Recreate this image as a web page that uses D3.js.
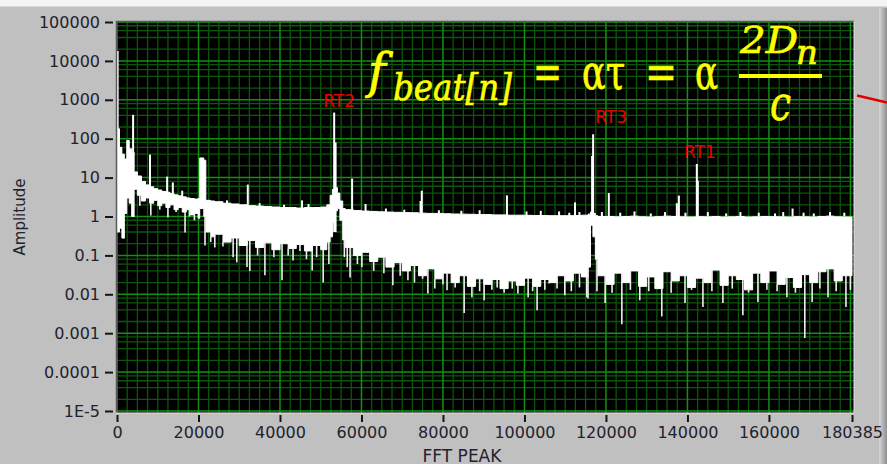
<!DOCTYPE html>
<html>
<head>
<meta charset="utf-8">
<script src="https://cdn.jsdelivr.net/npm/d3@7/dist/d3.min.js"></script>
<style>
  html, body { margin: 0; padding: 0; background: #c0c0c0; }
  svg { display: block; }
</style>
</head>
<body>
<svg id="chart" width="887" height="464"></svg>
<script>
// ---- data ----
var xMax = 180385;
var xTicks = [0, 20000, 40000, 60000, 80000, 100000, 120000, 140000, 160000, 180385];
var xTickLabels = ["0", "20000", "40000", "60000", "80000", "100000", "120000", "140000", "160000", "180385"];
var yTicks = [1e5, 1e4, 1e3, 100, 10, 1, 0.1, 0.01, 0.001, 1e-4, 1e-5];
var yTickLabels = ["100000", "10000", "1000", "100", "10", "1", "0.1", "0.01", "0.001", "0.0001", "1E-5"];

// white noise band: frequency, upper and lower envelope
var bandFreq = [0, 600, 1200, 1800, 2400, 3000, 3600, 4200, 5000, 6000, 7000, 8000, 9000, 10000,
  11000, 12000, 13000, 14000, 15000, 16000, 17000, 18000, 19000, 19900, 20300, 21300, 21800, 23000,
  24000, 26000, 28000, 30000, 32000, 34000, 36000, 38000, 40000, 42000, 44000, 46000, 48000, 50000,
  51500, 52300, 52900, 53500, 54100, 54700, 55400, 56000, 58000, 60000, 62000, 64000, 66000, 68000,
  70000, 72000, 74000, 76000, 78000, 80000, 82000, 84000, 86000, 88000, 90000, 92000, 94000, 96000,
  98000, 100000, 102000, 104000, 106000, 108000, 110000, 112000, 114000, 115600, 116200, 116800,
  117400, 118000, 120000, 122000, 124000, 126000, 128000, 130000, 132000, 134000, 136000, 138000,
  140000, 142000, 144000, 146000, 148000, 150000, 152000, 154000, 156000, 158000, 160000, 162000,
  164000, 166000, 168000, 170000, 172000, 174000, 176000, 178000, 180385];
var bandTop = [180, 60, 40, 30, 90, 55, 45, 14, 11, 8, 6.5, 5.8, 5.2, 4.8,
  4.4, 4.2, 3.9, 3.6, 3.4, 3.2, 3.0, 2.9, 2.8, 2.9, 32, 28, 2.6, 2.5,
  2.4, 2.2, 2.1, 2.0, 1.9, 1.85, 1.8, 1.75, 1.7, 1.7, 1.65, 1.7, 1.7, 1.75,
  2.0, 3.5, 5, 5.5, 4, 2.5, 1.6, 1.5, 1.42, 1.38, 1.35, 1.32, 1.3, 1.28,
  1.26, 1.25, 1.22, 1.2, 1.2, 1.18, 1.16, 1.15, 1.14, 1.12, 1.12, 1.1, 1.1, 1.08,
  1.08, 1.07, 1.06, 1.06, 1.05, 1.05, 1.05, 1.06, 1.08, 1.15, 1.3, 1.2,
  1.05, 1.0, 1.0, 0.98, 1.0, 1.02, 0.98, 0.97, 0.99, 1.02, 1.0, 0.98,
  0.97, 0.99, 0.98, 1.0, 0.97, 0.98, 1.0, 0.97, 0.98, 1.0, 0.99, 0.98,
  0.97, 0.99, 0.98, 0.97, 1.0, 1.02, 0.98, 0.97, 0.97];
var bandBottom = [0.4, 0.5, 0.28, 1.2, 3, 2.2, 1, 5, 3.5, 2.5, 3.0, 2.2, 2.6, 1.9,
  2.2, 1.7, 2.0, 1.5, 1.7, 1.3, 1.5, 1.1, 1.2, 0.9, 1.6, 1.0, 0.4, 0.3,
  0.35, 0.22, 0.28, 0.18, 0.24, 0.16, 0.21, 0.14, 0.2, 0.15, 0.19, 0.13, 0.18, 0.14,
  0.22, 0.3, 0.7, 1.4, 1.6, 0.8, 0.25, 0.16, 0.1, 0.12, 0.07, 0.09, 0.05, 0.065,
  0.04, 0.055, 0.03, 0.045, 0.025, 0.035, 0.02, 0.03, 0.016, 0.025, 0.018, 0.024, 0.014, 0.022,
  0.017, 0.026, 0.016, 0.024, 0.02, 0.03, 0.022, 0.035, 0.028, 0.05, 0.6, 0.3,
  0.08, 0.03, 0.018, 0.035, 0.02, 0.04, 0.016, 0.028, 0.014, 0.038, 0.022, 0.03,
  0.015, 0.026, 0.02, 0.042, 0.017, 0.03, 0.024, 0.013, 0.035, 0.02, 0.04, 0.018,
  0.027, 0.015, 0.032, 0.02, 0.038, 0.045, 0.022, 0.03, 0.03];

// upward spikes: frequency, peak amplitude, foot of the spike
var peakFreq = [150, 3950, 8100, 12300, 13700, 16000, 27000, 32100, 35000, 41000, 45400, 47000,
  53300, 53650, 57700, 61000, 66000, 70500, 74500, 74800, 79000, 84500, 89000, 95700, 100500, 104000,
  108500, 111000, 112400, 113500, 116600, 116850, 119000, 120700, 123500, 127000, 131000, 134500,
  137400, 137900, 139500, 142300, 142550, 145000, 149500, 153000, 157500, 161500, 163500, 165800,
  168500, 171000, 175000, 178500];
var peakAmp = [18000, 410, 39, 10.6, 7.5, 4.6, 2.6, 6.6, 2.2, 2.0, 2.6, 2.1,
  470, 80, 9.4, 2.1, 1.6, 1.5, 2.5, 4.6, 1.45, 1.4, 1.45, 3.5, 1.35, 1.4,
  1.35, 1.25, 2.3, 1.3, 36, 130, 1.3, 4.0, 1.25, 1.35, 1.2, 1.3,
  2.2, 3.45, 1.25, 22.4, 8.4, 1.3, 1.2, 1.3, 1.25, 1.2, 1.3, 1.6,
  1.25, 1.2, 1.3, 1.25];
var peakFoot = [0.4, 5, 4, 3, 2.5, 2, 2, 1.9, 1.7, 1.6, 1.6, 1.6,
  0.4, 0.4, 1.4, 1.3, 1.2, 1.2, 1.2, 1.2, 1.1, 1.1, 1.1, 1.1, 1.0, 1.0,
  1.0, 1.0, 1.0, 1.0, 0.6, 0.6, 1.0, 1.0, 1.0, 1.0, 1.0, 1.0,
  1.0, 1.0, 1.0, 1.0, 1.0, 1.0, 1.0, 1.0, 1.0, 1.0, 1.0, 1.0,
  1.0, 1.0, 1.0, 1.0];

// downward spikes: frequency, lowest amplitude
var dipFreq = [1700, 5600, 8300, 10500, 12500, 14500, 16700, 17800, 19000, 21600, 23000, 24000, 26000,
  28500, 29400, 31900, 32600, 34500, 36300, 38500, 40500, 42000, 43200, 44900, 46500, 47900, 49000,
  50600, 52000, 55800, 56500, 57200, 59000, 60100, 63000, 65500, 67700, 69500, 71400, 73000, 75000,
  76300, 78000, 80000, 81000, 83000, 85200, 87100, 89000, 90100, 92000, 93300, 95000, 97000, 98400,
  100900, 102000, 103100, 105000, 106000, 108000, 109900, 111500, 113500, 115300, 115600, 117800,
  119800, 121500, 123900, 126000, 128300, 130500, 132500, 133700, 136000, 139400, 141000, 143800,
  146000, 148700, 151000, 153600, 155000, 157300, 159500, 162000, 164400, 166500, 168800, 170600,
  172500, 174500, 176500, 178900, 180000];
var dipLow = [0.27, 1.9, 1.06, 1.5, 0.95, 1.3, 0.39, 1.0, 0.8, 0.18, 0.22, 0.16, 0.17,
  0.09, 0.066, 0.05, 0.04, 0.1, 0.031, 0.09, 0.023, 0.1, 0.074, 0.13, 0.08, 0.041, 0.09,
  0.02, 0.06, 0.09, 0.05, 0.027, 0.06, 0.05, 0.04, 0.035, 0.017, 0.03, 0.023, 0.02, 0.025,
  0.0105, 0.014, 0.018, 0.0127, 0.015, 0.0033, 0.0084, 0.012, 0.007, 0.013, 0.015, 0.011, 0.014, 0.0105,
  0.0084, 0.012, 0.0039, 0.013, 0.019, 0.014, 0.0094, 0.012, 0.015, 0.0084, 0.0078, 0.012,
  0.006, 0.011, 0.0017, 0.013, 0.007, 0.012, 0.015, 0.0027, 0.011, 0.006, 0.013, 0.0047,
  0.012, 0.006, 0.014, 0.0029, 0.011, 0.0063, 0.013, 0.012, 0.0084, 0.011, 0.00075, 0.0063,
  0.014, 0.0084, 0.012, 0.0047, 0.013];

var peakNames = ["RT2", "RT3", "RT1"];
var peakNameFreq = [53300, 116850, 142300];
var peakNameAmp = [470, 130, 22.4];

// ---- layout ----
var W = 887, H = 464;
var svg = d3.select("#chart");
var x = d3.scaleLinear().domain([0, xMax]).range([117, 852]);
var y = d3.scaleLog().domain([1e-5, 1e5]).range([411, 22]);

var defs = svg.append("defs");
var grad = defs.append("linearGradient").attr("id", "bevel").attr("x1", "0").attr("x2", "1");
grad.append("stop").attr("offset", "0").attr("stop-color", "#d6d6d6");
grad.append("stop").attr("offset", "1").attr("stop-color", "#8e8e8e");
defs.append("clipPath").attr("id", "plotClip")
  .append("rect").attr("x", 116).attr("y", 21).attr("width", 738).attr("height", 392);

// panel
svg.append("rect").attr("width", W).attr("height", H).attr("fill", "#c0c0c0");
svg.append("rect").attr("width", W).attr("height", 6).attr("fill", "#f4f4f4");
svg.append("line").attr("x1", 0).attr("x2", W).attr("y1", 6.5).attr("y2", 6.5)
  .attr("stroke", "#d8d8d8").attr("stroke-width", 1);
svg.append("rect").attr("x", 879).attr("y", 8).attr("width", 8).attr("height", H - 8)
  .attr("fill", "url(#bevel)");

// plot area
svg.append("rect").attr("x", 116).attr("y", 21).attr("width", 738).attr("height", 392).attr("fill", "#000");

var grid = svg.append("g").attr("clip-path", "url(#plotClip)");
var vMinor = d3.range(0, xMax, 2500).filter(function(d) { return d % 20000 !== 0; });
var vMajor = d3.range(0, xMax, 20000);
var hMajor = d3.range(-5, 6).map(function(e) { return Math.pow(10, e); });
var hMinor = [];
d3.range(-5, 5).forEach(function(e) {
  [2, 4, 6, 8].forEach(function(m) { hMinor.push(m * Math.pow(10, e)); });
});

grid.selectAll(".vmin").data(vMinor).enter().append("line")
  .attr("x1", function(d) { return x(d); }).attr("x2", function(d) { return x(d); })
  .attr("y1", 21).attr("y2", 413)
  .attr("stroke", "#0b560b").attr("stroke-width", 1.3);
grid.selectAll(".hmin").data(hMinor).enter().append("line")
  .attr("x1", 116).attr("x2", 854)
  .attr("y1", function(d) { return y(d); }).attr("y2", function(d) { return y(d); })
  .attr("stroke", "#0b560b").attr("stroke-width", 1.3);
grid.selectAll(".vmaj").data(vMajor).enter().append("line")
  .attr("x1", function(d) { return x(d); }).attr("x2", function(d) { return x(d); })
  .attr("y1", 21).attr("y2", 413)
  .attr("stroke", "#119111").attr("stroke-width", 1.5);
grid.selectAll(".hmaj").data(hMajor).enter().append("line")
  .attr("x1", 116).attr("x2", 854)
  .attr("y1", function(d) { return y(d); }).attr("y2", function(d) { return y(d); })
  .attr("stroke", "#119111").attr("stroke-width", 1.5);

// spectrum
var plot = svg.append("g").attr("clip-path", "url(#plotClip)");
var band = bandFreq.map(function(f, i) { return { f: f, top: bandTop[i], bot: bandBottom[i] }; });
var area = d3.area()
  .x(function(d) { return x(d.f); })
  .y0(function(d) { return y(d.bot); })
  .y1(function(d) { return y(d.top); })
  .curve(d3.curveStepAfter);
plot.append("path").datum(band).attr("d", area)
  .attr("fill", "#fff").attr("stroke", "#fff").attr("stroke-width", 1);

function bottomAt(f) {
  var i = Math.max(0, d3.bisectRight(bandFreq, f) - 1);
  return bandBottom[i];
}

plot.selectAll(".dip").data(dipFreq).enter().append("line")
  .attr("x1", function(d) { return x(d); }).attr("x2", function(d) { return x(d); })
  .attr("y1", function(d) { return y(bottomAt(d)); })
  .attr("y2", function(d, i) { return y(dipLow[i]); })
  .attr("stroke", "#eeeeee").attr("stroke-width", 1.6);

plot.selectAll(".peak").data(peakFreq).enter().append("line")
  .attr("x1", function(d) { return x(d); }).attr("x2", function(d) { return x(d); })
  .attr("y1", function(d, i) { return y(peakFoot[i]); })
  .attr("y2", function(d, i) { return y(peakAmp[i]); })
  .attr("stroke", "#fff").attr("stroke-width", 2);

// frame bevel
svg.append("path").attr("d", "M116.5,413V21.5H854")
  .attr("fill", "none").attr("stroke", "#5a5a5a").attr("stroke-width", 1.5);
svg.append("path").attr("d", "M116,413H854V21.5")
  .attr("fill", "none").attr("stroke", "#e2e2e2").attr("stroke-width", 1);

// axes
var yAxis = d3.axisLeft(y).tickValues(yTicks).tickSize(8).tickPadding(5)
  .tickFormat(function(d, i) { return yTickLabels[i]; });
var gy = svg.append("g").attr("transform", "translate(113,0)").call(yAxis);
var xAxis = d3.axisBottom(x).tickValues(xTicks).tickSize(7).tickPadding(5)
  .tickFormat(function(d, i) { return xTickLabels[i]; });
var gx = svg.append("g").attr("transform", "translate(0,415)").call(xAxis);
[gy, gx].forEach(function(g) {
  g.select(".domain").remove();
  g.selectAll(".tick line").attr("stroke", "#151515").attr("stroke-width", 2);
  g.selectAll(".tick text").attr("fill", "#22222e")
    .style("font-family", "'DejaVu Sans', sans-serif").style("font-size", "16px");
});

svg.append("text").attr("transform", "translate(25,217) rotate(-90)")
  .attr("text-anchor", "middle").attr("fill", "#22222e")
  .style("font-family", "'DejaVu Sans', sans-serif").style("font-size", "15px")
  .text("Amplitude");
svg.append("text").attr("x", 462).attr("y", 461.5)
  .attr("text-anchor", "middle").attr("fill", "#22222e")
  .style("font-family", "'DejaVu Sans', sans-serif").style("font-size", "17px")
  .text("FFT PEAK");

// peak names
var nameDx = [5, 18, 3];
var nameDy = [-5.5, -11, -5.7];
svg.selectAll(".pname").data(peakNames).enter().append("text")
  .attr("x", function(d, i) { return x(peakNameFreq[i]) + nameDx[i]; })
  .attr("y", function(d, i) { return y(peakNameAmp[i]) + nameDy[i]; })
  .attr("text-anchor", "middle").attr("fill", "#e60000")
  .style("font-family", "'DejaVu Sans', sans-serif").style("font-size", "17px")
  .text(function(d) { return d; });

// formula overlay
var fm = svg.append("g").attr("fill", "#ffff00").attr("stroke", "#ffff00").attr("stroke-width", 0.7)
  .style("font-family", "'DejaVu Serif', serif");
function ftxt(t, px, py, size, len, italic) {
  var el = fm.append("text").attr("x", px).attr("y", py)
    .style("font-size", size + "px").style("font-style", italic ? "italic" : "normal")
    .text(t);
  if (len) el.attr("textLength", len).attr("lengthAdjust", "spacingAndGlyphs");
}
ftxt("f", 368, 88, 48, 0, true);
ftxt("beat[n]", 393, 100, 38, 119, true);
ftxt("=", 533, 89, 48, 29, false);
ftxt("ατ", 582, 89, 48, 43, false);
ftxt("=", 645, 89, 48, 32, false);
ftxt("α", 695, 89, 48, 23, false);
ftxt("2D", 740, 53, 38, 58, true);
ftxt("n", 796, 64, 34, 22, true);
ftxt("c", 770, 120, 48, 21, true);
fm.append("rect").attr("x", 739).attr("y", 74).attr("width", 83).attr("height", 4).attr("stroke", "none");

// red pointer
svg.append("line").attr("x1", 857).attr("y1", 95.5).attr("x2", 887).attr("y2", 102.5)
  .attr("stroke", "#e00000").attr("stroke-width", 2.5);
</script>
</body>
</html>
